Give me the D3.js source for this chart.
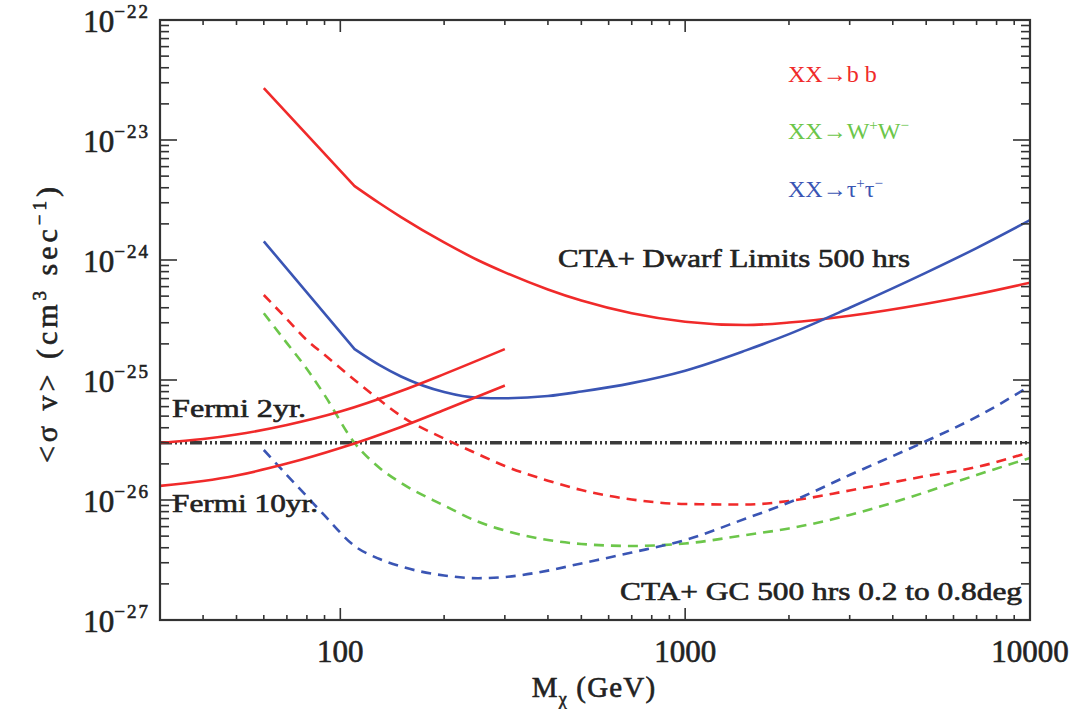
<!DOCTYPE html>
<html lang="en">
<head>
<meta charset="utf-8">
<title>CTA dark matter limits</title>
<script src="https://d3js.org/d3.v7.min.js"></script>
<style>
  body { margin: 0; background: #fff; }
  text { font-family: "Liberation Serif", "DejaVu Serif", serif; fill: #222; stroke: #222; stroke-width: 0.6; }
</style>
</head>
<body>
<script>
// masses (GeV)
var massDwarf = [60, 110, 130, 150, 200, 250, 300, 400, 500, 700, 1000, 1500, 2000, 3000, 5000, 7000, 10000];
var massGC = [60, 70, 80, 90, 110, 130, 150, 200, 250, 300, 400, 500, 700, 1000, 1500, 2000, 3000, 5000, 7000, 10000];
var massFermi = [30, 40, 50, 70, 100, 150, 200, 300];

// CTA dwarf limits, 500 hrs
var dwarfBB  = [2.71e-23, 4.13e-24, 2.97e-24, 2.28e-24, 1.40e-24, 1.0e-24, 7.89e-25, 5.68e-25, 4.59e-25, 3.6e-25, 3.06e-25, 2.87e-25, 3.01e-25, 3.43e-25, 4.32e-25, 5.18e-25, 6.47e-25];
var dwarfTau = [1.43e-24, 1.81e-25, 1.33e-25, 1.07e-25, 7.94e-26, 7.12e-26, 7.04e-26, 7.35e-26, 8.02e-26, 9.42e-26, 1.196e-25, 1.766e-25, 2.41e-25, 4.0e-25, 7.85e-25, 1.257e-24, 2.15e-24];

// CTA GC limits, 500 hrs
var gcBB  = [5.11e-25, 3.22e-25, 2.15e-25, 1.62e-25, 1.0e-25, 6.81e-26, 5.01e-26, 3.25e-26, 2.42e-26, 1.92e-26, 1.45e-26, 1.21e-26, 1.01e-26, 9.26e-27, 9.17e-27, 9.81e-27, 1.2e-26, 1.585e-26, 1.88e-26, 2.51e-26];
var gcWW  = [3.6e-25, 2.03e-25, 1.235e-25, 7.5e-26, 2.985e-26, 1.85e-26, 1.386e-26, 9.0e-27, 6.62e-27, 5.57e-27, 4.64e-27, 4.3e-27, 4.14e-27, 4.34e-27, 5.11e-27, 5.79e-27, 7.5e-27, 1.166e-26, 1.615e-26, 2.24e-26];
var gcTau = [2.61e-26, 1.615e-26, 1.07e-26, 7.43e-27, 4.14e-27, 3.22e-27, 2.79e-27, 2.35e-27, 2.23e-27, 2.28e-27, 2.58e-27, 2.96e-27, 3.65e-27, 4.64e-27, 7.01e-27, 9.53e-27, 1.615e-26, 3.1e-26, 4.92e-26, 8.91e-26];

// Fermi projections
var fermi2yr  = [2.985e-26, 3.22e-26, 3.51e-26, 4.22e-26, 5.46e-26, 8.1e-26, 1.12e-25, 1.81e-25];
var fermi10yr = [1.31e-26, 1.44e-26, 1.6e-26, 2.01e-26, 2.71e-26, 4.06e-26, 5.62e-26, 9.0e-26];

var thermal = 3e-26;

var xTickLabels = [100, 1000, 10000];
var yTickExps = [-27, -26, -25, -24, -23, -22];

var w = 1088, h = 709;
var pL = 160, pR = 1030, pT = 20, pB = 620;

var red = "#f02a2a", green = "#6cc64a", blue = "#3a55b4", ink = "#333";

var svg = d3.select("body").append("svg")
    .attr("width", w)
    .attr("height", h);

var x = d3.scaleLog().domain([30, 10000]).range([pL, pR]);
var y = d3.scaleLog().domain([1e-27, 1e-22]).range([pB, pT]);

svg.append("clipPath").attr("id", "plotclip")
  .append("rect").attr("x", pL).attr("y", pT).attr("width", pR - pL).attr("height", pB - pT);

var plot = svg.append("g").attr("clip-path", "url(#plotclip)");

function isMajor(v) {
  var l = Math.log10(v);
  return Math.abs(l - Math.round(l)) < 1e-6;
}

// lines
var smooth = d3.line()
    .x(d => x(d[0]))
    .y(d => y(d[1]))
    .curve(d3.curveMonotoneX);
var straight = d3.line()
    .x(d => x(d[0]))
    .y(d => y(d[1]));

function zip(a, b) { return a.map((m, i) => [m, b[i]]); }

// dwarf curves have a sharp bend at 110 GeV: straight before, smooth after
function pathFor(d) {
  var pts = zip(d.m, d.v);
  if (!d.kink) return smooth(pts);
  return straight(pts.slice(0, d.kink + 1)) + smooth(pts.slice(d.kink)).replace(/^M[^A-Za-z]*/, "");
}

var series = [
  {m: massDwarf, v: dwarfBB, c: red, dash: null, kink: 1},
  {m: massDwarf, v: dwarfTau, c: blue, dash: null, kink: 1},
  {m: massGC, v: gcBB, c: red, dash: "10,7"},
  {m: massGC, v: gcWW, c: green, dash: "10,7"},
  {m: massGC, v: gcTau, c: blue, dash: "10,7"},
  {m: massFermi, v: fermi2yr, c: red, dash: null},
  {m: massFermi, v: fermi10yr, c: red, dash: null}
];

// thermal relic line
plot.append("line")
    .attr("x1", x(30)).attr("x2", x(10000))
    .attr("y1", y(thermal)).attr("y2", y(thermal))
    .attr("stroke", "#3a3a3a")
    .attr("stroke-width", 3.5)
    .attr("stroke-dasharray", "12,3,2,3,2,3,2,3");

plot.selectAll("path.curve")
  .data(series)
  .enter().append("path")
    .attr("class", "curve")
    .attr("d", pathFor)
    .attr("fill", "none")
    .attr("stroke", d => d.c)
    .attr("stroke-width", 2.6)
    .attr("stroke-linejoin", "round")
    .attr("stroke-dasharray", d => d.dash);

// frame
svg.append("rect")
    .attr("x", pL).attr("y", pT)
    .attr("width", pR - pL).attr("height", pB - pT)
    .attr("fill", "none")
    .attr("stroke", ink)
    .attr("stroke-width", 2.2);

// ticks
var xt = x.ticks();
var yt = y.ticks();
var ticks = svg.append("g").attr("stroke", ink).attr("stroke-width", 1.6);

ticks.selectAll("line.xb").data(xt).enter().append("line")
    .attr("x1", d => x(d)).attr("x2", d => x(d))
    .attr("y1", pB).attr("y2", d => pB - (isMajor(d) ? 12 : 5));
ticks.selectAll("line.xt").data(xt).enter().append("line")
    .attr("x1", d => x(d)).attr("x2", d => x(d))
    .attr("y1", pT).attr("y2", d => pT + (isMajor(d) ? 12 : 5));
ticks.selectAll("line.yl").data(yt).enter().append("line")
    .attr("y1", d => y(d)).attr("y2", d => y(d))
    .attr("x1", pL).attr("x2", d => pL + (isMajor(d) ? 17 : 9));
ticks.selectAll("line.yr").data(yt).enter().append("line")
    .attr("y1", d => y(d)).attr("y2", d => y(d))
    .attr("x1", pR).attr("x2", d => pR - (isMajor(d) ? 17 : 9));

// x tick labels
svg.selectAll("text.xl").data(xTickLabels).enter().append("text")
    .attr("x", d => x(d))
    .attr("y", 662)
    .attr("text-anchor", "middle")
    .attr("font-size", 31)
    .text(d => d);

// y tick labels
var yl = svg.selectAll("text.yl").data(yTickExps).enter().append("text")
    .attr("x", 150)
    .attr("y", d => y(Math.pow(10, d)) + 12)
    .attr("text-anchor", "end")
    .attr("font-size", 31);
yl.append("tspan").text("10");
yl.append("tspan").attr("dy", -14).attr("font-size", 19).attr("letter-spacing", 2).text(d => "\u2212" + (-d));

// axis titles
var xt2 = svg.append("text")
    .attr("x", 594).attr("y", 697)
    .attr("text-anchor", "middle")
    .attr("font-size", 29)
    .attr("letter-spacing", 1.2);
xt2.append("tspan").text("M");
xt2.append("tspan").attr("dy", 8).attr("font-size", 18).text("\u03c7");
xt2.append("tspan").attr("dy", -8).text(" (GeV)");

var ytl = svg.append("text")
    .attr("transform", "translate(57,323) rotate(-90)")
    .attr("text-anchor", "middle")
    .attr("font-size", 30)
    .attr("letter-spacing", 4);
ytl.append("tspan").text("<\u03c3 v> (cm");
ytl.append("tspan").attr("dy", -11).attr("font-size", 19).text("3");
ytl.append("tspan").attr("dy", 11).text(" sec");
ytl.append("tspan").attr("dy", -11).attr("font-size", 19).text("\u22121");
ytl.append("tspan").attr("dy", 11).text(")");

// annotations
function note(txt, x0, y0, len, size) {
  return svg.append("text")
      .attr("x", x0).attr("y", y0)
      .attr("font-size", size)
      .attr("textLength", len)
      .attr("lengthAdjust", "spacingAndGlyphs")
      .text(txt);
}
note("CTA+ Dwarf Limits 500 hrs", 558, 267, 352, 25);
note("CTA+ GC 500 hrs 0.2 to 0.8deg", 620, 600, 402, 25);
note("Fermi 2yr.", 172, 417, 134, 25);
note("Fermi 10yr.", 172, 512, 146, 25);

// legend
var leg = svg.append("g").attr("font-size", 24);
var l1 = leg.append("text").attr("x", 788).attr("y", 82).style("fill", red).style("stroke", "none");
l1.append("tspan").text("XX\u2192b b");
var l2 = leg.append("text").attr("x", 788).attr("y", 139).style("fill", green).style("stroke", "none");
l2.append("tspan").text("XX\u2192W");
l2.append("tspan").attr("dy", -9).attr("font-size", 15).text("+");
l2.append("tspan").attr("dy", 9).text("W");
l2.append("tspan").attr("dy", -9).attr("font-size", 15).text("\u2212");
var l3 = leg.append("text").attr("x", 788).attr("y", 197).style("fill", blue).style("stroke", "none");
l3.append("tspan").text("XX\u2192\u03c4");
l3.append("tspan").attr("dy", -9).attr("font-size", 15).text("+");
l3.append("tspan").attr("dy", 9).text("\u03c4");
l3.append("tspan").attr("dy", -9).attr("font-size", 15).text("\u2212");
</script>
</body>
</html>
